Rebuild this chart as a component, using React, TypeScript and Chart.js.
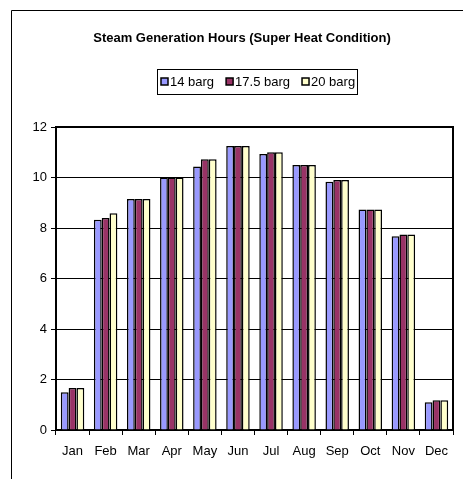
import React, { useEffect, useRef } from "react";
import { Chart, registerables } from "chart.js";

Chart.register(...registerables);

const TITLE = "Steam Generation Hours (Super Heat Condition)";
const months = ["Jan", "Feb", "Mar", "Apr", "May", "Jun", "Jul", "Aug", "Sep", "Oct", "Nov", "Dec"];
const seriesLabels = ["14 barg", "17.5 barg", "20 barg"];
const s14 = [1.5, 8.33, 9.15, 10.0, 10.44, 11.25, 10.93, 10.5, 9.83, 8.73, 7.67, 1.1];
const s175 = [1.66, 8.4, 9.15, 10.0, 10.72, 11.25, 11.0, 10.5, 9.9, 8.73, 7.74, 1.18];
const s20 = [1.66, 8.58, 9.15, 10.0, 10.72, 11.25, 11.0, 10.5, 9.9, 8.73, 7.74, 1.18];
const colors = ["#9999FF", "#993366", "#FFFFCC"];
const yTicks = [0, 2, 4, 6, 8, 10, 12];

const FONT = "'Liberation Sans', Arial, sans-serif";

const decorPlugin = {
  id: "decor",
  afterDraw(chart: any) {
    const ctx = chart.ctx;
    const a = chart.chartArea;
    ctx.save();
    // outer frame (left and top visible)
    ctx.strokeStyle = "#000";
    ctx.lineWidth = 1;
    ctx.beginPath();
    ctx.moveTo(11.5, 479);
    ctx.lineTo(11.5, 10.5);
    ctx.lineTo(463, 10.5);
    ctx.stroke();
    // plot border top and right
    ctx.lineWidth = 2;
    ctx.beginPath();
    ctx.moveTo(a.left, a.top);
    ctx.lineTo(a.right, a.top);
    ctx.lineTo(a.right, a.bottom);
    ctx.stroke();
    // title
    ctx.fillStyle = "#000";
    ctx.font = "bold 13px " + FONT;
    ctx.textAlign = "center";
    ctx.textBaseline = "middle";
    ctx.fillText(TITLE, 242, 38);
    // legend
    ctx.font = "13px " + FONT;
    ctx.textAlign = "left";
    const box = 7, gapText = 2, gapItem = 12, pad = 3;
    const ds = chart.data.datasets;
    let total = 0;
    ds.forEach((d: any, i: number) => {
      total += box + gapText + ctx.measureText(d.label).width;
      if (i < ds.length - 1) total += gapItem;
    });
    const cx = 257.5;
    const left = Math.round(cx - total / 2 - pad);
    const w = Math.round(total + pad * 2);
    ctx.lineWidth = 1;
    ctx.strokeRect(left + 0.5, 69.5, w, 25);
    let x = left + pad + 1;
    const cy = 82;
    ds.forEach((d: any) => {
      ctx.fillStyle = d.backgroundColor;
      ctx.fillRect(x, cy - 4, box, box);
      ctx.strokeStyle = "#000";
      ctx.lineWidth = 1.5;
      ctx.strokeRect(x, cy - 4, box, box);
      ctx.fillStyle = "#000";
      ctx.fillText(d.label, x + box + gapText, cy);
      x += box + gapText + ctx.measureText(d.label).width + gapItem;
    });
    ctx.restore();
  },
};

export default function App() {
  const ref = useRef<HTMLCanvasElement>(null);
  useEffect(() => {
    if (!ref.current) return;
    const data = [s14, s175, s20];
    const chart = new Chart(ref.current, {
      type: "bar",
      data: {
        labels: months,
        datasets: seriesLabels.map((l, i) => ({
          label: l,
          data: data[i],
          backgroundColor: colors[i],
          borderColor: "#000",
          borderWidth: 1.5,
          barPercentage: 1,
          categoryPercentage: 0.71,
        })),
      },
      options: {
        responsive: false,
        animation: false,
        devicePixelRatio: 1,
        layout: { padding: { left: 0, top: 127, right: 10, bottom: 19 } },
        plugins: {
          legend: { display: false },
          title: { display: false },
          tooltip: { enabled: false },
        },
        scales: {
          x: {
            afterFit: (s: any) => { s.height = 30; },
            grid: { drawOnChartArea: false, drawTicks: true, tickLength: 5, color: "#000", offset: true },
            border: { display: true, color: "#000", width: 2 },
            ticks: { color: "#000", font: { family: FONT, size: 13 }, padding: 9, maxRotation: 0, autoSkip: false },
          },
          y: {
            min: 0,
            max: 12,
            afterFit: (s: any) => { s.width = 56; },
            afterBuildTicks: (s: any) => { s.ticks = yTicks.map((v) => ({ value: v })); },
            grid: { color: "#000", lineWidth: 1, drawTicks: true, tickLength: 5, tickColor: "#000" },
            border: { display: true, color: "#000", width: 2 },
            ticks: { color: "#000", font: { family: FONT, size: 13 }, padding: 4 },
          },
        },
      },
      plugins: [decorPlugin],
    });
    return () => chart.destroy();
  }, []);
  return (
    <div style={{ position: "fixed", left: 0, top: 0, width: 463, height: 479, background: "#fff" }}>
      <canvas ref={ref} width={463} height={479} style={{ width: 463, height: 479, display: "block" }} />
    </div>
  );
}
